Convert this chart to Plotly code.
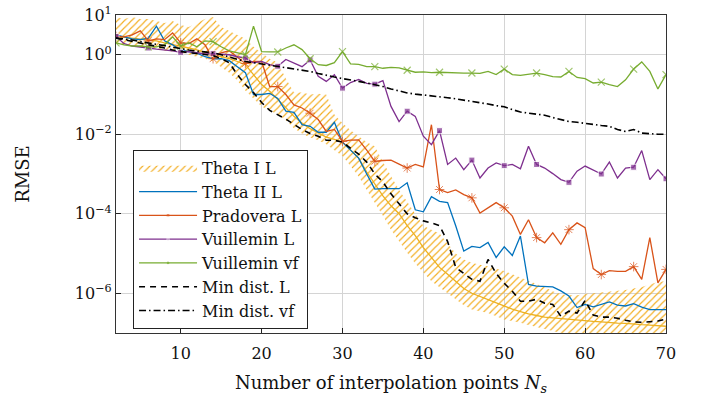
import numpy as np
import plotly.graph_objects as go

# number of interpolation points
Ns = list(range(2, 71))

# values as log10(RMSE), one per Ns = 2..70
theta1_band_hi = [0.95, 0.9, 0.95, 0.9, 0.9, 0.85, 0.8, 0.85, 0.75, 0.7,
                  0.8, 0.9, 0.95, 0.7, 0.6, 0.5, 0.4, 0.2, 0.05, -0.1,
                  -0.2, -0.6, -0.95, -0.95, -1.0, -0.98, -1.0, -1.5, -1.72, -1.9,
                  -2.05, -2.2, -2.3, -2.7, -3.05, -3.4, -3.7, -4.0, -4.3, -4.4,
                  -4.5, -4.75, -5.0, -5.15, -5.23, -5.28, -5.32, -5.38, -5.44, -5.52,
                  -5.6, -5.68, -5.75, -5.85, -5.95, -6.02, -6.05, -6.05, -6.02, -6.0,
                  -5.98, -5.96, -5.94, -5.92, -5.88, -5.84, -5.78, -5.72, -5.7]
theta1_band_lo = [0.3, 0.25, 0.22, 0.2, 0.18, 0.14, 0.1, 0.08, 0.05, 0.0,
                  -0.05, -0.1, -0.17, -0.3, -0.45, -0.65, -0.9, -1.1, -1.3, -1.4,
                  -1.5, -1.65, -1.85, -1.98, -2.08, -2.15, -2.25, -2.4, -2.55, -2.8,
                  -3.06, -3.4, -3.72, -4.05, -4.4, -4.7, -4.98, -5.25, -5.48, -5.7,
                  -5.85, -6.0, -6.15, -6.3, -6.41, -6.45, -6.5, -6.58, -6.66, -6.7,
                  -6.74, -6.8, -6.85, -6.9, -6.95, -7.0, -7.1, -7.1, -7.1, -7.1,
                  -7.1, -7.1, -7.1, -7.1, -7.1, -7.1, -7.1, -7.1, -7.1]
theta1 = [0.46, 0.44, 0.42, 0.4, 0.38, 0.35, 0.3, 0.26, 0.22, 0.17,
          0.12, 0.05, 0.0, -0.05, -0.1, -0.17, -0.25, -0.5, -0.75, -0.92,
          -1.12, -1.33, -1.55, -1.72, -1.86, -1.97, -2.07, -2.13, -2.2, -2.4,
          -2.6, -2.95, -3.25, -3.55, -3.8, -4.0, -4.3, -4.55, -4.85, -5.1,
          -5.35, -5.52, -5.7, -5.88, -6.0, -6.08, -6.16, -6.26, -6.34, -6.4,
          -6.46, -6.52, -6.56, -6.6, -6.62, -6.64, -6.66, -6.68, -6.7, -6.71,
          -6.72, -6.74, -6.75, -6.76, -6.78, -6.79, -6.8, -6.81, -6.83]
theta2 = [0.5, 0.45, 0.4, 0.38, 0.42, 0.72, 0.35, 0.25, 0.12, 0.08,
          0.04, -0.05, -0.1, -0.1, -0.15, -0.3, -0.45, -1.0, -1.0, -0.97,
          -1.1, -1.42, -1.45, -1.76, -1.8, -1.95, -1.95, -1.7, -2.2, -2.4,
          -2.6, -3.0, -3.38, -3.37, -3.37, -3.37, -3.22, -3.9, -3.95, -3.57,
          -3.69, -3.72, -4.3, -4.94, -4.82, -4.85, -4.72, -5.1, -4.83, -5.05,
          -4.56, -5.78, -5.82, -5.83, -5.84, -5.94, -6.07, -6.36, -6.28, -6.34,
          -6.28, -6.22, -6.3, -6.32, -6.26, -6.35, -6.41, -6.41, -6.41]
pradovera = [0.46, 0.45, 0.5, 0.6, 0.35, 0.4, 0.38, 0.55, 0.3, 0.28,
             0.4, 0.25, -0.1, 0.05, 0.1, -0.05, -0.22, -0.17, -0.17, -0.8,
             -0.8, -1.0, -1.26, -1.34, -1.47, -1.63, -1.93, -1.88, -2.18, -2.15,
             -2.14, -2.4, -2.68, -2.66, -2.65, -2.75, -2.85, -2.76, -2.82, -1.76,
             -3.39, -3.47, -3.4, -3.52, -3.6, -3.98, -3.85, -3.72, -3.85, -4.06,
             -4.52, -4.15, -4.6, -4.73, -4.48, -4.77, -4.4, -4.23, -4.35, -5.38,
             -5.53, -5.43, -5.45, -5.45, -5.33, -5.65, -4.6, -5.74, -5.4]
vuillemin_L = [0.46, 0.28, 0.22, 0.2, 0.17, 0.14, 0.12, 0.1, 0.06, 0.08,
               0.05, 0.02, 0.03, 0.02, 0.0, -0.05, -0.08, -0.2, -0.17, -0.25,
               -0.29, -0.12, -0.2, -0.3, -0.13, -0.54, -0.67, -0.5, -0.84, -0.7,
               -0.62, -0.72, -0.74, -0.65, -1.3, -1.68, -1.42, -1.55, -2.05, -2.26,
               -1.91, -2.76, -2.6, -2.89, -2.65, -3.1, -2.85, -2.72, -2.79, -2.76,
               -2.87, -2.3, -2.76, -2.85, -2.99, -3.14, -3.21, -2.93, -2.8, -2.89,
               -3.0, -2.7, -3.1, -2.85, -2.83, -2.41, -3.14, -2.89, -3.12]
vuillemin_vf = [0.3, 0.25, 0.22, 0.22, 0.2, 0.2, 0.25, 0.45, 0.22, 0.3,
                0.2, 0.35, 0.33, 0.2, 0.1, 0.05, 0.0, 0.72, 0.08, 0.07,
                0.07, 0.17, 0.25, 0.13, -0.1, -0.25, -0.27, -0.2, 0.08, -0.23,
                -0.24, -0.3, -0.3, -0.34, -0.32, -0.33, -0.39, -0.44, -0.43, -0.45,
                -0.44, -0.45, -0.46, -0.46, -0.46, -0.47, -0.42, -0.5, -0.36, -0.5,
                -0.52, -0.49, -0.46, -0.5, -0.55, -0.56, -0.42, -0.57, -0.6, -0.71,
                -0.69, -0.75, -0.8, -0.63, -0.36, -0.18, -0.42, -0.86, -0.5]
mindist_L = [0.42, 0.38, 0.34, 0.3, 0.25, 0.22, 0.17, 0.12, 0.08, 0.05,
             0.03, 0.0, -0.02, -0.1, -0.2, -0.5, -0.75, -0.95, -1.2, -1.4,
             -1.5, -1.62, -1.75, -1.88, -1.98, -2.05, -2.15, -2.15, -2.2, -2.35,
             -2.5, -2.7, -3.0, -3.2, -3.5, -3.75, -4.0, -4.1, -4.18, -4.23,
             -4.3, -4.7, -5.35, -5.5, -5.65, -5.7, -5.15, -5.5, -5.75, -5.95,
             -6.2, -6.2, -6.15, -6.25, -6.28, -6.58, -6.45, -6.5, -6.18, -6.55,
             -6.6, -6.6, -6.63, -6.68, -6.72, -6.73, -6.72, -6.7, -6.65]
mindist_vf = [0.42, 0.4, 0.37, 0.33, 0.3, 0.27, 0.23, 0.19, 0.15, 0.12,
              0.09, 0.07, 0.05, 0.0, -0.06, -0.11, -0.17, -0.2, -0.23, -0.26,
              -0.29, -0.32, -0.36, -0.39, -0.42, -0.47, -0.52, -0.56, -0.6, -0.63,
              -0.67, -0.71, -0.75, -0.8, -0.86, -0.91, -0.96, -0.99, -1.01, -1.03,
              -1.05, -1.08, -1.11, -1.14, -1.17, -1.2, -1.24, -1.28, -1.31, -1.38,
              -1.44, -1.47, -1.5, -1.52, -1.58, -1.63, -1.68, -1.7, -1.73, -1.76,
              -1.78, -1.8, -1.88, -1.93, -1.88, -1.97, -1.99, -2.0, -2.0]

ytick_vals = [1e1, 1e0, 1e-2, 1e-4, 1e-6]
ytick_text = ['10<sup>1</sup>', '10<sup>0</sup>', '10<sup>\u22122</sup>',
              '10<sup>\u22124</sup>', '10<sup>\u22126</sup>']
xtick_vals = [10, 20, 30, 40, 50, 60, 70]

FONT = 'DejaVu Serif, Liberation Serif, serif'
GOLD = '#EDB120'


def rmse(logs):
    return 10 ** np.array(logs)


# markers drawn on every 4th sample only
mark_every = [1 if (n - 2) % 4 == 0 else 0 for n in Ns]

fig = go.Figure()

fig.add_trace(go.Scatter(
    x=Ns, y=rmse(theta1_band_lo), mode='lines',
    line=dict(width=0, color=GOLD), showlegend=False, hoverinfo='skip',
))
fig.add_trace(go.Scatter(
    x=Ns, y=rmse(theta1_band_hi), mode='lines', name='Theta I L',
    line=dict(width=0, color=GOLD), fill='tonexty',
    fillcolor='rgba(0,0,0,0)',
    fillpattern=dict(shape='/', fgcolor='#F2AC1C', bgcolor='rgba(0,0,0,0)',
                     size=5, solidity=0.22, fillmode='replace'),
))
fig.add_trace(go.Scatter(
    x=Ns, y=rmse(theta1), mode='lines', showlegend=False,
    line=dict(color=GOLD, width=1.3),
))
fig.add_trace(go.Scatter(
    x=Ns, y=rmse(theta2), mode='lines', name='Theta II L',
    line=dict(color='#0072BD', width=1.3),
))
fig.add_trace(go.Scatter(
    x=Ns, y=rmse(pradovera), mode='lines+markers', name='Pradovera L',
    line=dict(color='#D95319', width=1.3),
    marker=dict(symbol='asterisk-open', size=[8 * m for m in mark_every],
                color='#D95319', line=dict(color='#D95319', width=1)),
))
fig.add_trace(go.Scatter(
    x=Ns, y=rmse(vuillemin_L), mode='lines+markers', name='Vuillemin L',
    line=dict(color='#7E2F8E', width=1.3),
    marker=dict(symbol='square', size=[6 * m for m in mark_every], color='#7E2F8E'),
))
fig.add_trace(go.Scatter(
    x=Ns, y=rmse(vuillemin_vf), mode='lines+markers', name='Vuillemin vf',
    line=dict(color='#77AC30', width=1.3),
    marker=dict(symbol='x-thin-open', size=[7 * m for m in mark_every],
                color='#77AC30', line=dict(color='#77AC30', width=1.2)),
))
fig.add_trace(go.Scatter(
    x=Ns, y=rmse(mindist_L), mode='lines', name='Min dist. L',
    line=dict(color='black', width=1.6, dash='6px,5px'),
))
fig.add_trace(go.Scatter(
    x=Ns, y=rmse(mindist_vf), mode='lines', name='Min dist. vf',
    line=dict(color='black', width=1.6, dash='7px,3px,1.5px,3px'),
))

fig.update_layout(
    width=707,
    height=405,
    margin=dict(l=116, r=41, t=15, b=72),
    paper_bgcolor='white',
    plot_bgcolor='white',
    font=dict(family=FONT, size=16, color='#111'),
    xaxis=dict(
        range=[2, 70],
        tickvals=xtick_vals,
        automargin=False,
        showgrid=True, gridcolor='#d4d4d4', gridwidth=1,
        zeroline=False,
        showline=True, linecolor='#333', linewidth=1.2, mirror=True,
        ticks='inside', ticklen=5, tickcolor='#222',
        ticklabelstandoff=6,
        title=dict(text='Number of interpolation points <i>N</i><sub><i>s</i></sub>',
                   font=dict(size=18), standoff=14),
    ),
    yaxis=dict(
        type='log',
        range=[-7, 1],
        tickvals=ytick_vals,
        ticktext=ytick_text,
        automargin=False,
        ticklabeloverflow='allow',
        showgrid=True, gridcolor='#d4d4d4', gridwidth=1,
        zeroline=False,
        showline=True, linecolor='#333', linewidth=1.2, mirror=True,
        ticks='inside', ticklen=5, tickcolor='#222',
        title=dict(text='RMSE', font=dict(size=18), standoff=40),
    ),
    legend=dict(
        x=0.031, y=0.576, xanchor='left', yanchor='top',
        traceorder='normal',
        bgcolor='white', bordercolor='#222', borderwidth=1,
        font=dict(family=FONT, size=16),
        itemwidth=58,
        tracegroupgap=0,
    ),
)

# drop the browser's default 8px body margin so the figure sits at the page corner
fig.write_html("out.html", config={'displayModeBar': False},
               post_script="document.body.style.margin='0';")
